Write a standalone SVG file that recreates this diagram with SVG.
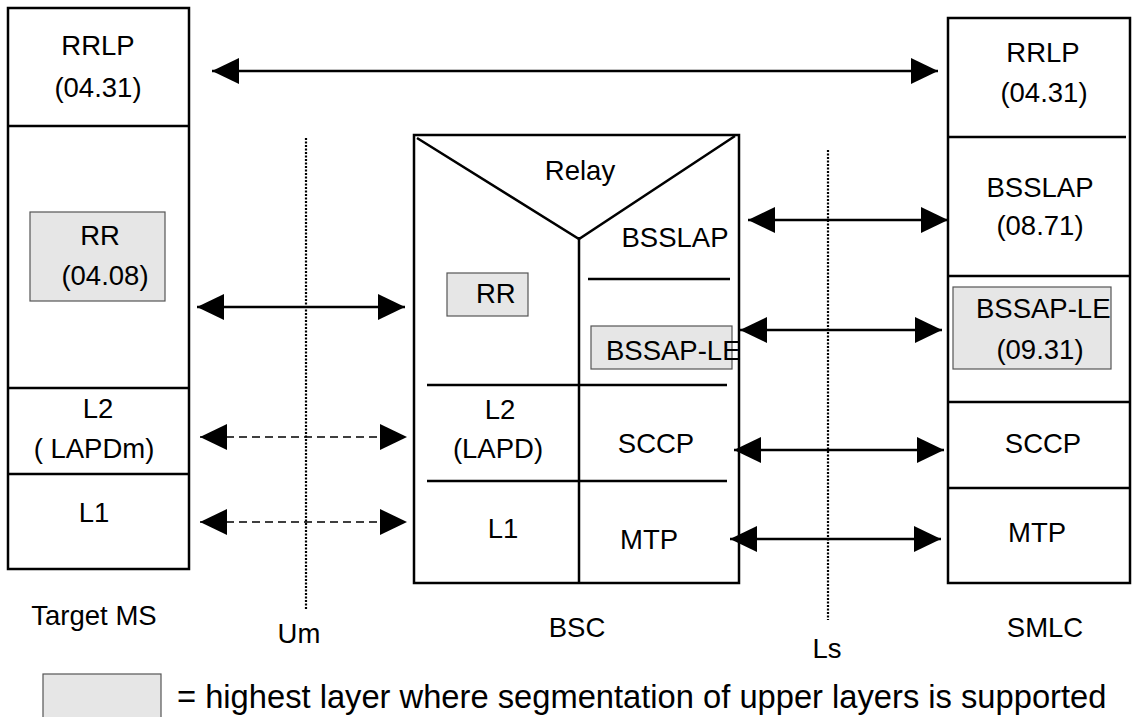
<svg xmlns="http://www.w3.org/2000/svg" width="1135" height="717" viewBox="0 0 1135 717">
<style>
text{font-family:"Liberation Sans",Arial,sans-serif;font-size:27.5px;fill:#000}
.m{text-anchor:middle}
.box{fill:#fff;stroke:#000;stroke-width:2.5}
.ln{stroke:#000;stroke-width:2.5;fill:none}
.seg{fill:#e6e6e6;stroke:#555;stroke-width:1.2}
.arr{stroke:#000;stroke-width:2.5;fill:none;marker-start:url(#ah);marker-end:url(#ah)}
.dash{stroke:#000;stroke-width:1.5;stroke-dasharray:8,5;fill:none;marker-start:url(#ah);marker-end:url(#ah)}
.dot{stroke:#000;stroke-width:2.2;stroke-dasharray:2,1.5;fill:none}
</style>
<defs>
<marker id="ah" markerUnits="userSpaceOnUse" markerWidth="27" markerHeight="26" refX="27" refY="13" orient="auto-start-reverse">
<path d="M0,0 L27,13 L0,26 z" fill="#000"/>
</marker>
</defs>
<rect width="1135" height="717" fill="#fff"/>

<g id="target-ms">
<rect class="box" x="8" y="8" width="181" height="561"/>
<line class="ln" x1="8" y1="126" x2="189" y2="126"/>
<line class="ln" x1="8" y1="388" x2="189" y2="388"/>
<line class="ln" x1="8" y1="474" x2="189" y2="474"/>
<text class="m" x="98" y="55">RRLP</text>
<text class="m" x="98" y="97">(04.31)</text>
<rect class="seg" x="30" y="212" width="135" height="89"/>
<text class="m" x="100" y="245">RR</text>
<text class="m" x="105" y="285">(04.08)</text>
<text class="m" x="98" y="418">L2</text>
<text class="m" x="94" y="458">( LAPDm)</text>
<text class="m" x="94" y="522">L1</text>
<text class="m" x="94" y="625">Target MS</text>
</g>

<g id="bsc">
<rect class="box" x="414" y="135" width="325" height="448"/>
<polyline class="ln" points="417,138 579,239 735,136"/>
<line class="ln" x1="579" y1="237" x2="579" y2="583"/>
<line class="ln" x1="588" y1="279" x2="730" y2="279"/>
<line class="ln" x1="427" y1="385" x2="727" y2="385"/>
<line class="ln" x1="427" y1="481" x2="727" y2="481"/>
<text class="m" x="580" y="180">Relay</text>
<text class="m" x="675" y="247">BSSLAP</text>
<rect class="seg" x="447" y="273" width="81" height="43"/>
<text x="476" y="303">RR</text>
<rect class="seg" x="591" y="326" width="141" height="43"/>
<text x="606" y="360">BSSAP-LE</text>
<text class="m" x="500" y="419">L2</text>
<text class="m" x="498" y="458">(LAPD)</text>
<text class="m" x="656" y="453">SCCP</text>
<text class="m" x="503" y="538">L1</text>
<text class="m" x="649" y="549">MTP</text>
<text class="m" x="577" y="637">BSC</text>
</g>

<g id="smlc">
<rect class="box" x="948" y="18" width="182" height="565"/>
<line class="ln" x1="947" y1="137" x2="1126" y2="137"/>
<line class="ln" x1="948" y1="276" x2="1130" y2="276"/>
<line class="ln" x1="948" y1="402" x2="1130" y2="402"/>
<line class="ln" x1="948" y1="488" x2="1130" y2="488"/>
<text class="m" x="1043" y="62">RRLP</text>
<text class="m" x="1044" y="102">(04.31)</text>
<text class="m" x="1040" y="197">BSSLAP</text>
<text class="m" x="1040" y="235">(08.71)</text>
<rect class="seg" x="953" y="287" width="158" height="82"/>
<text x="976" y="318">BSSAP-LE</text>
<text class="m" x="1040" y="359">(09.31)</text>
<text class="m" x="1043" y="453">SCCP</text>
<text class="m" x="1037" y="542">MTP</text>
<text class="m" x="1045" y="637">SMLC</text>
</g>

<g id="interfaces">
<line class="dot" x1="306" y1="138" x2="306" y2="610"/>
<text class="m" x="299" y="643">Um</text>
<line class="dot" x1="828" y1="150" x2="828" y2="620"/>
<text class="m" x="827" y="658">Ls</text>
</g>

<g id="connectors">
<line class="arr" x1="212" y1="71" x2="938" y2="71"/>
<line class="arr" x1="197" y1="307" x2="405" y2="307"/>
<line class="dash" x1="200" y1="437" x2="407" y2="437"/>
<line class="dash" x1="200" y1="522" x2="407" y2="522"/>
<line class="arr" x1="748" y1="220" x2="948" y2="220"/>
<line class="arr" x1="740" y1="330" x2="942" y2="330"/>
<line class="arr" x1="734" y1="450" x2="944" y2="450"/>
<line class="arr" x1="730" y1="539" x2="941" y2="539"/>
</g>

<g id="legend">
<rect class="seg" x="43" y="674" width="118" height="50"/>
<text x="177" y="708" style="font-size:32.7px">= highest layer where segmentation of upper layers is supported</text>
</g>
</svg>
